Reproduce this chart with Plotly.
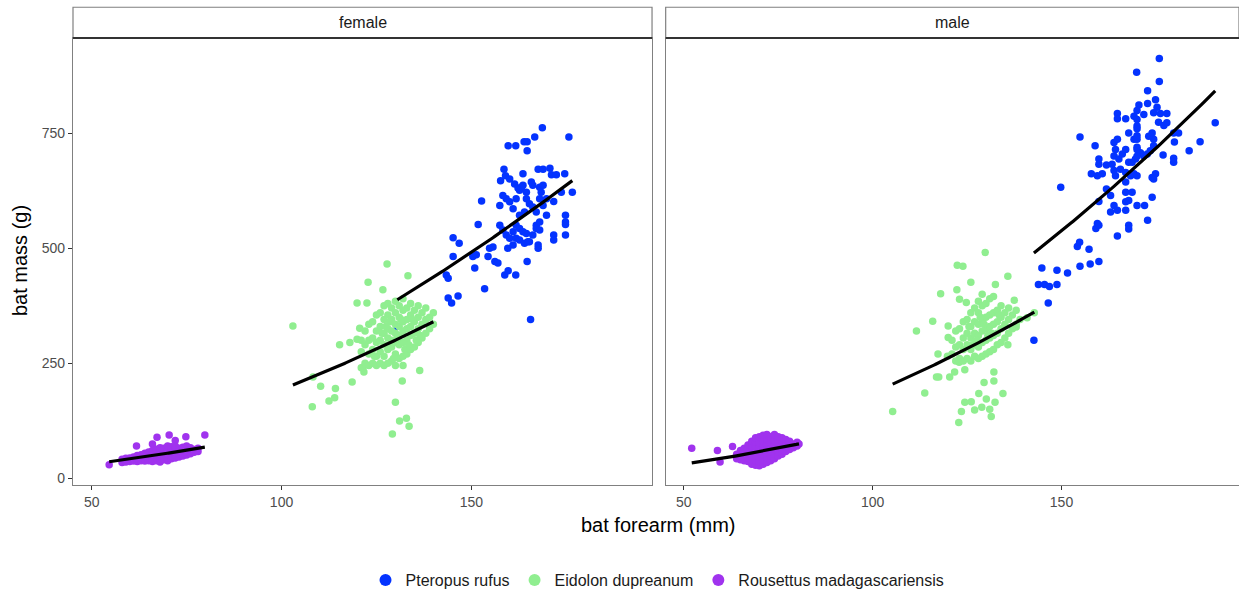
import numpy as np
import plotly.graph_objects as go

# ---------------- data: (forearm mm, mass g) ----------------
species = ["Pteropus rufus", "Eidolon dupreanum", "Rousettus madagascariensis"]
species_colors = ["#0433FF", "#90EE90", "#A033EE"]
sexes = ["female", "male"]

female_pteropus = [
    (168.7, 762), (175.7, 742), (159.7, 723), (161.7, 723), (163.9, 732), (164.7, 732),
    (164.7, 712), (166.7, 742), (158.6, 672), (157.7, 647), (167.6, 672), (168.9, 672),
    (170.7, 674), (171.1, 660), (172.4, 660), (174.6, 662), (176.6, 622), (173.7, 622),
    (152.7, 603), (151.8, 552), (145.2, 523), (146.8, 511), (145.2, 482), (143.4, 442),
    (143.9, 435), (143.9, 392), (144.8, 381), (146.5, 396), (153.5, 412), (165.6, 345),
    (150.9, 457), (150.4, 482), (151.3, 486), (154.8, 500), (155.7, 503), (154.4, 482),
    (156.2, 471), (157.0, 468), (158.8, 442), (159.7, 451), (161.7, 442), (164.7, 471),
    (167.6, 507), (167.6, 500), (171.7, 529), (171.7, 518), (174.8, 529), (174.8, 572),
    (174.8, 557), (174.8, 552), (171.7, 602), (169.8, 572),
    (157.5, 550), (158.3, 540), (159.2, 529), (160.1, 522), (161.0, 536), (161.8, 550),
    (162.7, 543), (163.6, 536), (164.5, 532), (165.3, 514), (166.2, 529), (167.1, 550),
    (168.0, 557), (167.1, 579), (166.2, 590), (165.3, 597), (164.5, 608), (164.0, 579),
    (162.7, 572), (161.0, 586), (160.1, 601), (159.2, 608), (158.3, 615), (157.5, 593),
    (159.6, 500), (161.0, 507), (161.8, 522), (162.7, 518), (164.0, 511), (164.9, 514),
    (167.1, 543), (168.0, 540), (168.9, 593), (168.4, 622), (168.0, 633), (168.9, 637),
    (166.2, 637), (165.8, 644), (163.6, 637), (162.7, 626), (161.8, 608), (169.8, 608),
    (168.0, 608), (159.0, 658), (160.1, 651), (161.4, 640), (162.3, 631), (163.6, 662),
    (163.2, 633), (164.5, 622), (130.5, 330),
]

female_eidolon = [
    (103.0, 331), (108.1, 155), (110.3, 200), (112.5, 168), (114.0, 175), (114.2, 195),
    (115.3, 290), (118.0, 295), (119.9, 302), (118.6, 209), (121.7, 231), (121.5, 241),
    (122.8, 426), (127.8, 466), (133.3, 440), (126.7, 410), (119.9, 381), (122.5, 381),
    (120.6, 326), (132.0, 245), (136.4, 234), (131.8, 211), (130.0, 165), (131.1, 124),
    (132.9, 130), (133.6, 113), (129.2, 96), (108.3, 220),
    (121, 240), (121, 275), (121, 300), (122, 250), (122, 290), (122, 320),
    (123, 245), (123, 270), (123, 300), (123, 335), (124, 250), (124, 280), (124, 305),
    (124, 340), (125, 245), (125, 265), (125, 295), (125, 320), (125, 355),
    (126, 250), (126, 275), (126, 300), (126, 330), (126, 360),
    (127, 245), (127, 265), (127, 290), (127, 315), (127, 345), (127, 375),
    (128, 250), (128, 280), (128, 305), (128, 325), (128, 355), (128, 380),
    (129, 255), (129, 285), (129, 300), (129, 320), (129, 345), (129, 370),
    (130, 245), (130, 270), (130, 295), (130, 315), (130, 335), (130, 360), (130, 385),
    (131, 260), (131, 290), (131, 310), (131, 330), (131, 350), (131, 375),
    (132, 265), (132, 295), (132, 320), (132, 340), (132, 365), (132, 390),
    (133, 270), (133, 300), (133, 325), (133, 345), (133, 370),
    (134, 280), (134, 310), (134, 330), (134, 355), (134, 380),
    (135, 285), (135, 315), (135, 340), (135, 365), (136, 295), (136, 325), (136, 350),
    (136, 375), (137, 305), (137, 335), (137, 360), (138, 315), (138, 345), (138, 370),
    (139, 325), (139, 350), (140, 335), (140, 360),
    (124.5, 265), (126.5, 315), (128.5, 340), (130.5, 305), (132.5, 280), (134.5, 345),
    (136.5, 310), (129.5, 260), (131.5, 345), (133.5, 290), (127.5, 330), (135.5, 300),
]

female_rousettus = [
    (54.6, 29), (61.8, 70), (67.2, 89), (70.4, 94), (74.8, 90), (79.8, 94), (66, 74),
    (72, 82),
    (58, 34), (58, 41), (59, 35), (59, 43), (60, 36), (60, 44), (61, 37), (61, 46),
    (62, 36), (62, 42), (62, 49), (63, 38), (63, 44), (63, 51), (64, 37), (64, 42),
    (64, 48), (64, 54), (65, 38), (65, 44), (65, 50), (65, 57), (66, 36), (66, 41),
    (66, 47), (66, 53), (66, 60), (67, 38), (67, 44), (67, 50), (67, 56), (67, 63),
    (68, 35), (68, 41), (68, 47), (68, 53), (68, 59), (68, 66), (69, 40), (69, 46),
    (69, 52), (69, 58), (69, 65), (70, 38), (70, 44), (70, 50), (70, 56), (70, 62),
    (70, 70), (71, 42), (71, 48), (71, 55), (71, 61), (71, 68), (72, 44), (72, 50),
    (72, 57), (72, 63), (72, 70), (73, 46), (73, 52), (73, 58), (73, 65), (74, 48),
    (74, 54), (74, 60), (74, 67), (75, 50), (75, 56), (75, 63), (75, 70), (76, 53),
    (76, 60), (76, 66), (77, 56), (77, 62), (78, 58), (78, 65),
]

male_pteropus = [
    (175.9, 913), (169.9, 883), (175.9, 863), (172.8, 843), (174.9, 823), (172.8, 815),
    (170.5, 812), (175.3, 807), (164.8, 793), (164.8, 782), (167.0, 782), (169.2, 787),
    (171.8, 791), (174.4, 795), (176.2, 793), (177.9, 793), (175.7, 774), (177.9, 773),
    (177.1, 767), (154.9, 742), (158.9, 723), (190.7, 773), (186.7, 732), (183.8, 712),
    (179.7, 751), (181.0, 751), (179.9, 731), (176.9, 703), (179.7, 696), (179.7, 687),
    (167.8, 751), (169.2, 737), (170.0, 737), (170.0, 766), (170.0, 715), (170.9, 708),
    (171.8, 701), (172.7, 705), (173.5, 712), (174.4, 723), (174.4, 737), (173.1, 744),
    (174.0, 751), (163.9, 730), (164.8, 737), (164.3, 715), (163.9, 701), (165.2, 694),
    (166.1, 705), (167.0, 715), (167.8, 687), (168.7, 687), (169.6, 694), (159.9, 694),
    (159.9, 683), (161.9, 681), (163.4, 683), (157.9, 662), (159.5, 658), (160.8, 662),
    (163.9, 669), (164.3, 658), (165.6, 672), (167.0, 665), (168.3, 658), (169.2, 662),
    (170.0, 658), (174.0, 654), (174.9, 662), (174.4, 651), (161.9, 629), (163.0, 615),
    (167.0, 644), (167.0, 622), (168.7, 622), (159.9, 602), (163.9, 593), (163.0, 579),
    (164.8, 583), (167.0, 583), (167.0, 601), (167.8, 604), (170.0, 593), (172.0, 593),
    (174.0, 611), (149.8, 633), (159.5, 554), (159.1, 543), (159.9, 550), (164.8, 527),
    (167.8, 550), (167.8, 542), (172.8, 561), (154.2, 504), (154.8, 513), (157.3, 498),
    (154.9, 461), (157.6, 466), (159.9, 471), (144.8, 457), (148.8, 452), (151.6, 446),
    (143.9, 421), (145.5, 421), (146.8, 417), (148.8, 421), (142.7, 300), (146.5, 381),
    (170.0, 700), (170.0, 720), (170.0, 745), (170.0, 760), (170.0, 780), (170.0, 800),
]

male_eidolon = [
    (105.3, 145), (113.8, 185), (111.6, 320), (115.9, 341), (118.0, 401), (116.9, 220),
    (117.5, 220), (120.4, 220), (121.7, 231), (119.8, 265), (122.4, 463), (123.9, 461),
    (126.0, 426), (129.8, 491), (122.3, 410), (123.0, 389), (124.8, 382), (132.5, 421),
    (135.8, 439), (137.5, 387), (122.9, 252), (124.4, 236), (117.3, 270), (132.1, 231),
    (129.5, 208), (132.1, 211), (134.5, 184), (128.1, 184), (130.1, 172), (124.4, 165),
    (126.1, 166), (123.5, 145), (127.0, 148), (128.9, 154), (131.0, 150), (132.4, 165),
    (131.4, 134), (122.8, 121), (142.8, 360), (140.9, 349), (138.0, 329), (135.8, 290),
    (120.0, 306), (120.0, 331),
    (121, 270), (121, 300), (122, 255), (122, 285), (122, 320), (123, 260), (123, 290),
    (123, 325), (124, 255), (124, 280), (124, 305), (124, 340), (125, 260), (125, 290),
    (125, 315), (125, 345), (126, 255), (126, 280), (126, 305), (126, 330), (126, 360),
    (127, 265), (127, 290), (127, 315), (127, 340), (127, 370),
    (128, 260), (128, 285), (128, 310), (128, 335), (128, 360), (128, 385),
    (129, 265), (129, 295), (129, 320), (129, 345), (129, 375), (129, 400),
    (130, 270), (130, 300), (130, 325), (130, 350), (130, 380),
    (131, 275), (131, 305), (131, 330), (131, 355), (131, 390),
    (132, 280), (132, 310), (132, 335), (132, 360), (132, 395),
    (133, 290), (133, 315), (133, 340), (133, 365), (134, 295), (134, 325), (134, 350),
    (134, 375), (135, 305), (135, 335), (135, 360), (136, 315), (136, 345), (136, 370),
    (137, 325), (137, 355), (138, 335), (138, 365), (139, 345),
    (125.5, 330), (127.5, 300), (129.5, 335), (131.5, 315), (133.5, 355), (126.5, 290),
    (128.5, 350), (130.5, 310),
]

male_rousettus = [
    (52.1, 65), (58.9, 60), (59.6, 35), (62.9, 69),
    (64, 42), (64, 52), (65, 40), (65, 48), (65, 60), (66, 38), (66, 45), (66, 55),
    (66, 65), (67, 36), (67, 43), (67, 53), (67, 63), (67, 72), (68, 30), (68, 40),
    (68, 50), (68, 60), (68, 70), (68, 80), (69, 28), (69, 38), (69, 48), (69, 58),
    (69, 68), (69, 78), (69, 88), (70, 27), (70, 36), (70, 46), (70, 56), (70, 66),
    (70, 76), (70, 90), (71, 30), (71, 40), (71, 50), (71, 60), (71, 70), (71, 80),
    (71, 93), (72, 34), (72, 44), (72, 54), (72, 64), (72, 74), (72, 84), (72, 95),
    (73, 38), (73, 48), (73, 58), (73, 68), (73, 78), (73, 90), (74, 42), (74, 52),
    (74, 62), (74, 72), (74, 82), (74, 95), (75, 48), (75, 58), (75, 68), (75, 78),
    (75, 90), (76, 52), (76, 62), (76, 72), (76, 82), (76, 88), (77, 58), (77, 68),
    (77, 78), (77, 84), (78, 62), (78, 72), (78, 80), (79, 66), (79, 74), (80, 70),
    (80, 78), (80.5, 74),
]

panels = {
    "female": [female_pteropus, female_eidolon, female_rousettus],
    "male": [male_pteropus, male_eidolon, male_rousettus],
}

x_ticks = [50, 100, 150]
y_ticks = [0, 250, 500, 750]

# ---------------- figure ----------------
fig = go.Figure()
font_family = "Liberation Sans, Arial, sans-serif"
axis_ids = {"female": ("x", "y"), "male": ("x2", "y2")}

for sex in sexes:
    xa, ya = axis_ids[sex]
    for sp, color, pts in zip(species, species_colors, panels[sex]):
        arr = np.array(pts, dtype=float)
        fig.add_trace(go.Scatter(
            x=arr[:, 0], y=arr[:, 1], mode="markers",
            marker=dict(color=color, size=7.5, line=dict(width=0)),
            name=sp, legendgroup=sp, showlegend=(sex == "female"),
            xaxis=xa, yaxis=ya, hoverinfo="skip",
        ))

# allometric fit per sex: log(mass) ~ log(forearm) + species (common slope)
for sex in sexes:
    xa, ya = axis_ids[sex]
    groups = [np.array(p, dtype=float) for p in panels[sex]]
    rows, target = [], []
    for gi, arr in enumerate(groups):
        for fx, my in arr:
            onehot = [1.0 if k == gi else 0.0 for k in range(len(groups))]
            rows.append([np.log(fx)] + onehot)
            target.append(np.log(my))
    coef, *_ = np.linalg.lstsq(np.array(rows), np.array(target), rcond=None)
    slope = coef[0]
    for gi, arr in enumerate(groups):
        xs = np.linspace(arr[:, 0].min(), arr[:, 0].max(), 80)
        fig.add_trace(go.Scatter(
            x=xs, y=np.exp(coef[1 + gi] + slope * np.log(xs)), mode="lines",
            line=dict(color="black", width=3.2),
            showlegend=False, xaxis=xa, yaxis=ya, hoverinfo="skip",
        ))

border = "#808080"
tick_font = dict(size=14, color="#4D4D4D", family=font_family)
xaxis_common = dict(
    tickvals=x_ticks, ticks="outside", ticklen=4, tickcolor="#333333", tickwidth=1,
    tickfont=tick_font, showgrid=False, zeroline=False, showline=True,
    linecolor=border, linewidth=1.2, mirror=True,
)
yaxis_common = dict(
    range=[-15, 957.5], showgrid=False, zeroline=False,
    showline=True, linecolor=border, linewidth=1.2, mirror=True,
)

fig.update_layout(
    width=1239, height=597,
    margin=dict(l=73, r=0, t=38, b=108),
    paper_bgcolor="white", plot_bgcolor="white",
    font=dict(family=font_family, color="#1A1A1A"),
    xaxis=dict(domain=[0.0, 0.4966], range=[45.07, 197.6], **xaxis_common),
    xaxis2=dict(domain=[0.5083, 1.0], range=[45.2, 197.0], **xaxis_common),
    yaxis=dict(tickvals=y_ticks, ticks="outside", ticklen=4, tickcolor="#333333",
               tickfont=tick_font, anchor="x", **yaxis_common),
    yaxis2=dict(matches="y", anchor="x2", showticklabels=False, ticks="", **yaxis_common),
    legend=dict(orientation="h", x=0.5013, xanchor="center", y=-0.2129, yanchor="middle",
                font=dict(size=16, color="#1A1A1A", family=font_family),
                itemsizing="constant", bgcolor="rgba(0,0,0,0)"),
    showlegend=True,
)

# facet strips
strip_h = 31 / 451
for sex, (x0, x1) in zip(sexes, [(0.0, 0.4966), (0.5083, 1.0)]):
    fig.add_shape(type="rect", xref="paper", yref="paper", x0=x0, x1=x1,
                  y0=1, y1=1 + strip_h, fillcolor="white",
                  line=dict(color=border, width=1.2), layer="above")
    fig.add_shape(type="line", xref="paper", yref="paper", x0=x0, x1=x1,
                  y0=1, y1=1, line=dict(color="#333333", width=2), layer="above")
    fig.add_annotation(text=sex, xref="paper", yref="paper", x=(x0 + x1) / 2,
                       y=1 + strip_h / 2, showarrow=False, xanchor="center",
                       yanchor="middle", font=dict(size=16, color="#1A1A1A"))

# shared axis titles
fig.add_annotation(text="bat forearm (mm)", xref="paper", yref="paper",
                   x=0.5013, y=-40 / 451, showarrow=False, xanchor="center",
                   yanchor="middle", font=dict(size=20, color="black"))
fig.add_annotation(text="bat mass (g)", xref="paper", yref="paper",
                   x=-53 / 1166, y=0.501, showarrow=False, textangle=-90,
                   xanchor="center", yanchor="middle", font=dict(size=20, color="black"))

fig.write_html("out.html")
